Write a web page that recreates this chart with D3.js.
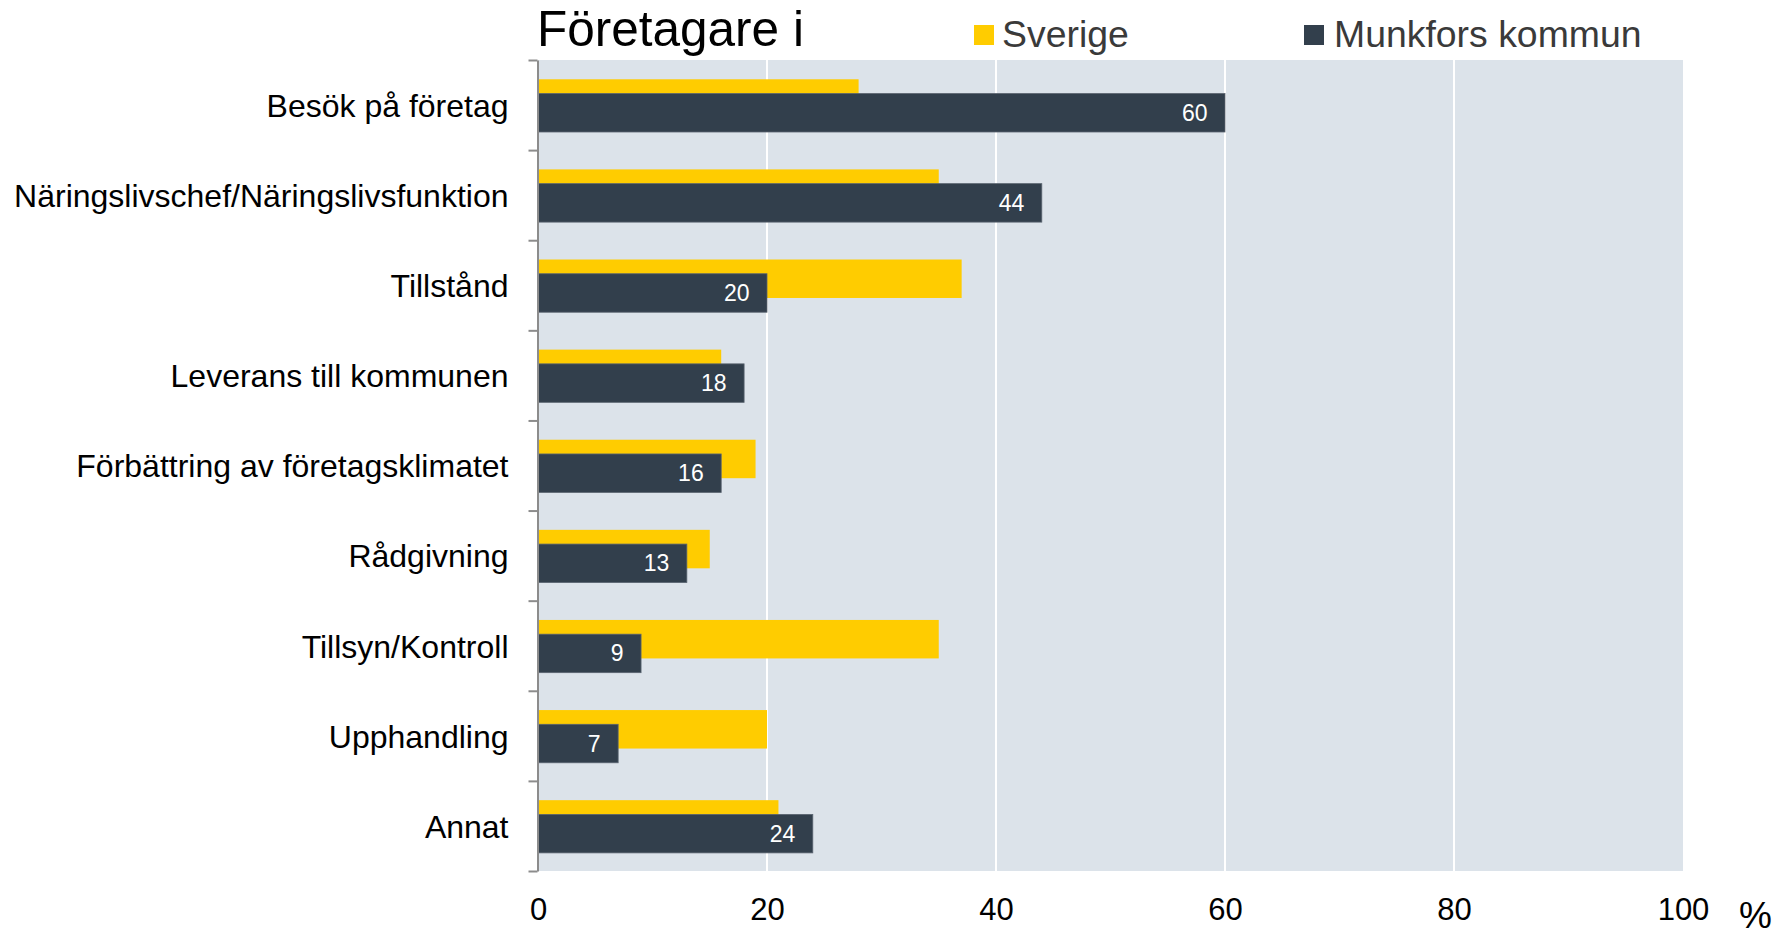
<!DOCTYPE html>
<html>
<head>
<meta charset="utf-8">
<script src="https://cdn.jsdelivr.net/npm/d3@7"></script>
<style>
  html, body { margin: 0; padding: 0; background: #ffffff; }
  svg { display: block; font-family: "Liberation Sans", Arial, sans-serif; }
</style>
</head>
<body>
<svg id="chart" width="1784" height="936"></svg>
<script>
const categories = [
  "Besök på företag",
  "Näringslivschef/Näringslivsfunktion",
  "Tillstånd",
  "Leverans till kommunen",
  "Förbättring av företagsklimatet",
  "Rådgivning",
  "Tillsyn/Kontroll",
  "Upphandling",
  "Annat"
];
const sverige = [28, 35, 37, 16, 19, 15, 35, 20, 21];
const munkfors = [60, 44, 20, 18, 16, 13, 9, 7, 24];
const xTicks = [0, 20, 40, 60, 80, 100];
const seriesNames = ["Sverige", "Munkfors kommun"];
const titleText = "Företagare i";
const unitText = "%";

(function () {
const colors = { sverige: "#FFCC00", munkfors: "#323F4C", bg: "#DCE3EA", axis: "#8C8C8C" };

const svg = d3.select("#chart");
const pLeft = 538, pRight = 1683, pTop = 60, pBottom = 871;

const x = d3.scaleLinear().domain([0, 100]).range([pLeft, pRight]);
const y = d3.scaleBand().domain(categories).range([pTop, pBottom]).padding(0);
const bw = y.bandwidth();
const barH = 0.427 * bw;
const offYellow = 0.214 * bw;
const offDark = 0.372 * bw;

// background
svg.append("rect")
  .attr("x", x(0)).attr("y", pTop)
  .attr("width", x(100) - x(0)).attr("height", pBottom - pTop)
  .attr("fill", colors.bg);

// gridlines
svg.append("g").selectAll("line")
  .data(xTicks.filter(d => d > 0 && d < 100))
  .join("line")
  .attr("x1", d => x(d)).attr("x2", d => x(d))
  .attr("y1", pTop).attr("y2", pBottom)
  .attr("stroke", "#ffffff").attr("stroke-width", 2);

// Sverige bars
svg.append("g").selectAll("rect")
  .data(categories)
  .join("rect")
  .attr("x", x(0))
  .attr("y", (d) => y(d) + offYellow)
  .attr("width", (d, i) => x(sverige[i]) - x(0))
  .attr("height", barH)
  .attr("fill", colors.sverige);

// Munkfors bars
svg.append("g").selectAll("rect")
  .data(categories)
  .join("rect")
  .attr("x", x(0))
  .attr("y", (d) => y(d) + offDark)
  .attr("width", (d, i) => x(munkfors[i]) - x(0))
  .attr("height", barH)
  .attr("fill", colors.munkfors)
  .attr("stroke", "#5a6470")
  .attr("stroke-width", 0.8);

// data labels
svg.append("g").selectAll("text")
  .data(categories)
  .join("text")
  .attr("x", (d, i) => x(munkfors[i]) - 17.5)
  .attr("y", (d) => y(d) + offDark + barH / 2)
  .attr("dy", "0.35em")
  .attr("text-anchor", "end")
  .attr("fill", "#ffffff")
  .attr("font-size", 23)
  .text((d, i) => munkfors[i]);

// left axis with boundary ticks
const yIdx = d3.scaleLinear().domain([0, categories.length]).range([pTop, pBottom]);
const leftAxis = svg.append("g")
  .attr("transform", `translate(${pLeft - 0.5},0)`)
  .call(d3.axisLeft(yIdx).tickValues(d3.range(categories.length + 1)).tickFormat("").tickSize(9).tickSizeOuter(0));
leftAxis.selectAll("path, line").attr("stroke", colors.axis).attr("stroke-width", 2);

// category labels
const catAxis = svg.append("g")
  .attr("transform", `translate(${pLeft - 0.5},0)`)
  .call(d3.axisLeft(y).tickSize(0).tickPadding(29));
catAxis.select(".domain").remove();
catAxis.selectAll("text")
  .attr("font-size", 32)
  .attr("fill", "#000000")
  .attr("dy", "0.37em")
  .attr("font-family", "Liberation Sans, Arial, sans-serif");

// x axis tick labels
const xAxis = svg.append("g")
  .attr("transform", `translate(0,${pBottom})`)
  .call(d3.axisBottom(x).tickValues(xTicks).tickSize(0).tickPadding(27));
xAxis.select(".domain").remove();
xAxis.selectAll("text")
  .attr("font-size", 31)
  .attr("fill", "#000000")
  .attr("font-family", "Liberation Sans, Arial, sans-serif");

// unit
svg.append("text")
  .attr("x", 1739).attr("y", 928)
  .attr("font-size", 37).attr("fill", "#000")
  .text(unitText);

// title
svg.append("text")
  .attr("x", 537).attr("y", 46)
  .attr("font-size", 49.5).attr("fill", "#000")
  .text(titleText);

// legend
const legendItems = [
  { name: seriesNames[0], color: colors.sverige, sx: 974, tx: 1002 },
  { name: seriesNames[1], color: colors.munkfors, sx: 1304, tx: 1334 }
];
const lg = svg.append("g").selectAll("g").data(legendItems).join("g");
lg.append("rect")
  .attr("x", d => d.sx).attr("y", 25)
  .attr("width", 20).attr("height", 20)
  .attr("fill", d => d.color);
lg.append("text")
  .attr("x", d => d.tx).attr("y", 47)
  .attr("font-size", 37.4).attr("fill", "#3a3a3a")
  .text(d => d.name);
})();
</script>
</body>
</html>
